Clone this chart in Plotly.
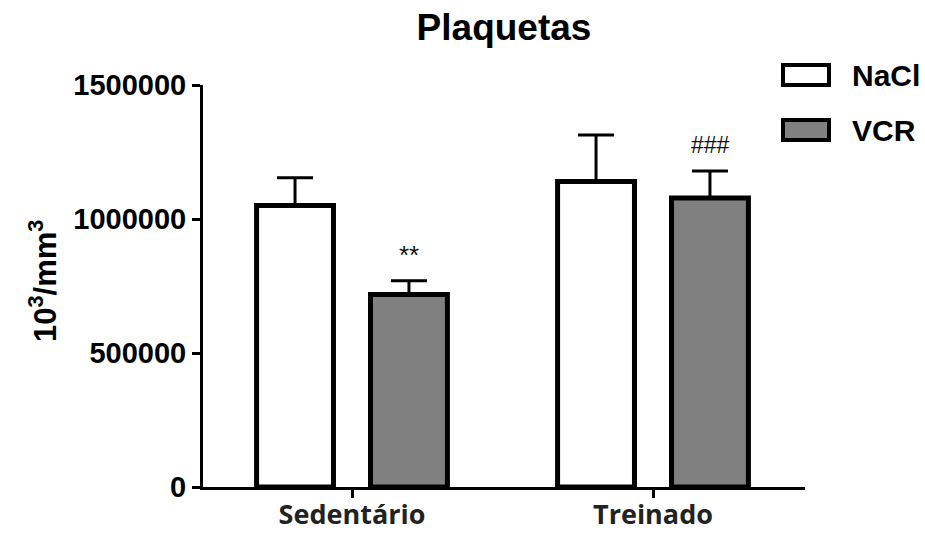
import plotly.graph_objects as go

categories = ["Sedentário", "Treinado"]
nacl_mean = [1050000, 1140000]
nacl_sem = [104000, 173000]
vcr_mean = [718000, 1078000]
vcr_sem = [52000, 101000]
vcr_marks = ["**", "###"]
y_ticks = [0, 500000, 1000000, 1500000]

fig = go.Figure()
fig.add_trace(go.Bar(
    name="NaCl", x=categories, y=nacl_mean,
    marker=dict(color="white", line=dict(color="black", width=5)),
    error_y=dict(type="data", array=nacl_sem, symmetric=False, arrayminus=[0, 0],
                 color="black", thickness=3, width=18),
))
fig.add_trace(go.Bar(
    name="VCR", x=categories, y=vcr_mean,
    marker=dict(color="#808080", line=dict(color="black", width=5)),
    error_y=dict(type="data", array=vcr_sem, symmetric=False, arrayminus=[0, 0],
                 color="black", thickness=3, width=18),
))

annotations = []
mark_sizes = [26, 23]
for i, c in enumerate(categories):
    annotations.append(dict(
        x=c, y=vcr_mean[i] + vcr_sem[i], xref="x", yref="y",
        text=vcr_marks[i], showarrow=False, xshift=57, yshift=26,
        yanchor="middle", xanchor="center",
        font=dict(family="Liberation Sans, Arial", size=mark_sizes[i], color="#111"),
    ))

annotations.append(dict(
    x=(43 - 203) / 602, y=(487 - 281) / 402, xref="paper", yref="paper",
    xanchor="center", yanchor="middle",
    text="<b>10<sup>3</sup>/mm<sup>3</sup></b>", textangle=-90, showarrow=False,
    font=dict(family="Liberation Sans, Arial", size=31, color="black"),
))

# custom legend
legend_items = [("NaCl", "white"), ("VCR", "#808080")]
shapes = []
for k, (lab, col) in enumerate(legend_items):
    yc = 75 + k * 55
    x0p, x1p = (783 - 203) / 602, (829 - 203) / 602
    y0p = (487 - (yc + 10)) / 402
    y1p = (487 - (yc - 10)) / 402
    shapes.append(dict(type="rect", xref="paper", yref="paper", x0=x0p, x1=x1p,
                       y0=y0p, y1=y1p, fillcolor=col, line=dict(color="black", width=4)))
    annotations.append(dict(
        x=(850 - 203) / 602, y=(487 - yc) / 402, xref="paper", yref="paper",
        xanchor="left", yanchor="middle", text=f"<b>{lab}</b>", showarrow=False,
        font=dict(family="Liberation Sans, Arial", size=30, color="black"),
    ))

fig.update_layout(
    width=925, height=533,
    margin=dict(l=203, r=120, t=85, b=46),
    paper_bgcolor="white", plot_bgcolor="white",
    showlegend=False,
    barmode="group", bargap=0.243, bargroupgap=0.325,
    title=dict(text="<b>Plaquetas</b>", x=504 / 925, xanchor="center",
               y=1 - 27 / 533, yanchor="middle",
               font=dict(family="Liberation Sans, Arial", size=37, color="black")),
    xaxis=dict(range=[-0.495, 1.505], showline=True, linecolor="black", linewidth=3,
               ticks="outside", ticklen=8, tickwidth=3, tickcolor="black",
               tickfont=dict(family="Open Sans", size=27, color="#222"),
               ticklabelstandoff=-6,
               showgrid=False, zeroline=False, automargin=False),
    yaxis=dict(range=[0, 1500000], tickvals=y_ticks,
               ticktext=[f"<b>{v}</b>" for v in y_ticks],
               showline=True, linecolor="black", linewidth=3,
               ticks="outside", ticklen=8, tickwidth=3, tickcolor="black",
               tickfont=dict(family="Liberation Sans, Arial", size=29, color="black"),
               showgrid=False, zeroline=False, automargin=False),
    annotations=annotations, shapes=shapes,
)
fig.update_xaxes(ticktext=[f"<b>{c}</b>" for c in categories], tickvals=categories)

fig.write_html("out.html")
